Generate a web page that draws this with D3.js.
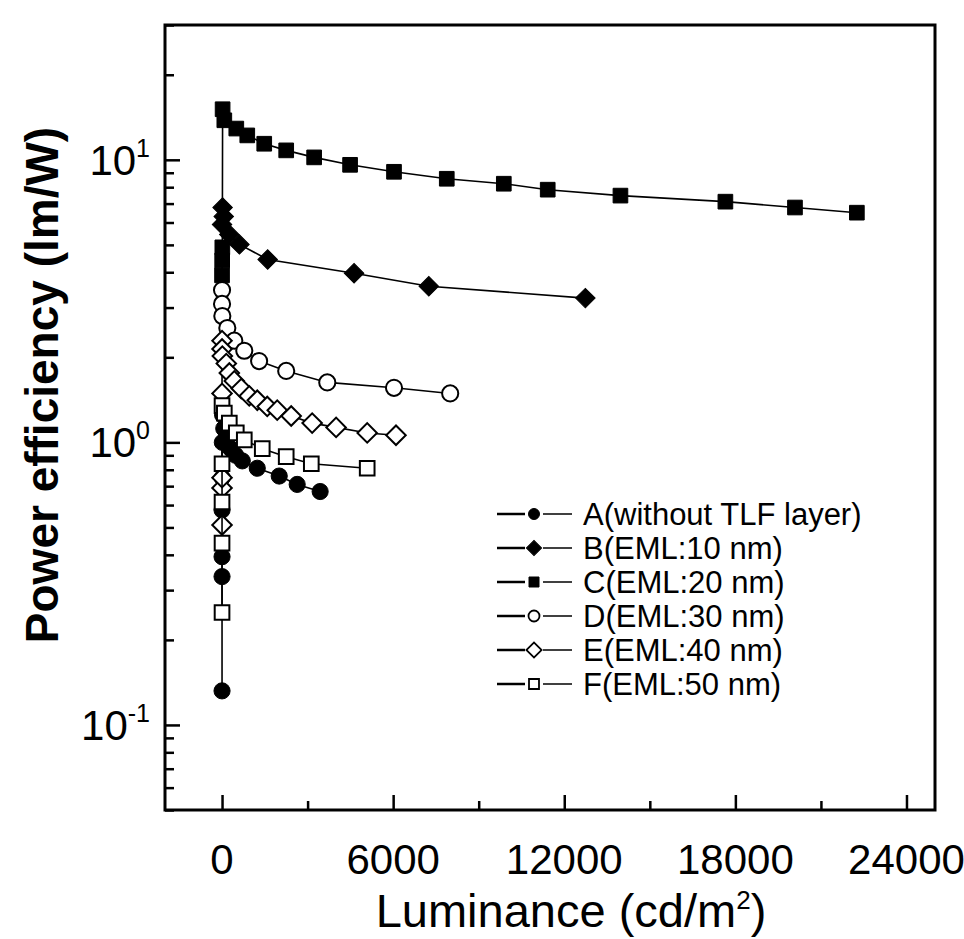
<!DOCTYPE html>
<html>
<head>
<meta charset="utf-8">
<script src="https://cdn.jsdelivr.net/npm/d3@7"></script>
<style>
  body { margin: 0; background: #fff; }
  text { font-family: "Liberation Sans", Arial, sans-serif; fill: #000; }
</style>
</head>
<body>
<div id="myChart"></div>
<script>
// Series data (luminance in cd/m2, power efficiency in lm/W)
var lumA = [0, 0, 0, 0, 5, 10, 20, 60, 150, 300, 480, 710, 1235, 2005, 2635, 3440];
var peA  = [0.132, 0.335, 0.394, 0.576, 0.75, 1.0, 1.25, 1.12, 1.02, 0.95, 0.9, 0.86, 0.81, 0.76, 0.71, 0.67];

var lumB = [0, 20, 60, 255, 610, 1600, 4630, 7250, 12740];
var peB  = [5.9, 6.78, 6.3, 5.44, 5.02, 4.44, 3.97, 3.57, 3.24];

var lumC = [0, 5, 10, 20, 80, 500, 885, 1480, 2250, 3230, 4490, 6030, 7880, 9880, 11420, 13970, 17650, 20090, 22260];
var peC  = [3.9, 4.4, 4.9, 15.1, 13.8, 12.9, 12.2, 11.4, 10.8, 10.2, 9.6, 9.07, 8.57, 8.23, 7.84, 7.47, 7.11, 6.78, 6.5];

var lumD = [0, 0, 10, 185, 430, 780, 1300, 2250, 3690, 6030, 8000];
var peD  = [3.46, 3.09, 2.8, 2.54, 2.29, 2.11, 1.94, 1.79, 1.63, 1.56, 1.49];

var lumE = [0, 0, 0, 0, 0, 0, 10, 150, 255, 430, 675, 955, 1235, 1585, 1935, 2425, 3160, 4000, 5090, 6100];
var peE  = [0.51, 0.69, 0.75, 1.49, 2.29, 2.14, 2.02, 1.90, 1.76, 1.65, 1.55, 1.46, 1.41, 1.34, 1.30, 1.24, 1.17, 1.13, 1.08, 1.06];

var lumF = [0, 0, 0, 0, 0, 80, 255, 500, 780, 1410, 2250, 3130, 5090];
var peF  = [0.25, 0.44, 0.615, 0.84, 1.35, 1.27, 1.17, 1.08, 1.02, 0.95, 0.89, 0.84, 0.81];

var seriesNames = ["A(without TLF layer)", "B(EML:10 nm)", "C(EML:20 nm)", "D(EML:30 nm)", "E(EML:40 nm)", "F(EML:50 nm)"];
var seriesShapes = ["circle", "diamond", "square", "circle", "diamond", "square"];
var seriesFilled = [true, true, true, false, false, false];

var xTicks = [0, 6000, 12000, 18000, 24000];
var xMinorTicks = [3000, 9000, 15000, 21000];
var yTickExps = [-1, 0, 1];

var series = [
  { lum: lumA, pe: peA }, { lum: lumB, pe: peB }, { lum: lumC, pe: peC },
  { lum: lumD, pe: peD }, { lum: lumE, pe: peE }, { lum: lumF, pe: peF }
];

let svgWidth = 964;
let svgHeight = 939;
let margin = { left: 165, right: 29, top: 25, bottom: 129 };

let svg = d3.select("#myChart").append("svg")
  .attr("width", svgWidth)
  .attr("height", svgHeight);

var x = d3.scaleLinear()
  .domain([-2000, 25000])
  .range([margin.left, svgWidth - margin.right]);

var y = d3.scaleLog()
  .domain([0.05, 30])
  .range([svgHeight - margin.bottom, margin.top]);

// frame
svg.append("rect")
  .attr("x", margin.left)
  .attr("y", margin.top)
  .attr("width", svgWidth - margin.left - margin.right)
  .attr("height", svgHeight - margin.top - margin.bottom)
  .attr("fill", "none")
  .attr("stroke", "#000")
  .attr("stroke-width", 3);

// x axis (ticks pointing inward)
let xAxis = svg.append("g")
  .attr("transform", "translate(0," + (svgHeight - margin.bottom) + ")")
  .call(d3.axisTop(x).tickValues(xTicks).tickSize(15).tickFormat(""));
xAxis.append("g")
  .call(d3.axisTop(x).tickValues(xMinorTicks).tickSize(9).tickFormat(""));
xAxis.selectAll(".domain").remove();
xAxis.selectAll("line").attr("stroke", "#000").attr("stroke-width", 2.5);

svg.append("g").selectAll("text")
  .data(xTicks)
  .enter()
  .append("text")
  .attr("x", d => x(d))
  .attr("y", svgHeight - margin.bottom + 64)
  .attr("text-anchor", "middle")
  .style("font-family", "'Liberation Sans Narrow', 'Arial Narrow', sans-serif")
  .style("font-size", "42px")
  .text(d => d);

// y axis, log scale with minor ticks 2..9
var yMajor = yTickExps.map(e => Math.pow(10, e));
var yMinor = [];
[-2, -1, 0, 1].forEach(function(e) {
  for (let k = 2; k <= 9; k++) {
    let v = k * Math.pow(10, e);
    if (v >= 0.05 && v <= 30) yMinor.push(v);
  }
});

let yAxis = svg.append("g")
  .attr("transform", "translate(" + margin.left + ",0)")
  .call(d3.axisRight(y).tickValues(yMajor).tickSize(15).tickFormat(""));
yAxis.append("g")
  .call(d3.axisRight(y).tickValues(yMinor).tickSize(9).tickFormat(""));
yAxis.selectAll(".domain").remove();
yAxis.selectAll("line").attr("stroke", "#000").attr("stroke-width", 2.5);

let yLabels = svg.append("g").selectAll("text")
  .data(yTickExps)
  .enter()
  .append("text")
  .attr("x", margin.left - 15)
  .attr("y", d => y(Math.pow(10, d)) + 15)
  .attr("text-anchor", "end")
  .style("font-family", "'Liberation Sans Narrow', 'Arial Narrow', sans-serif")
  .style("font-size", "42px");
yLabels.append("tspan").text("10");
yLabels.append("tspan")
  .attr("dy", -18)
  .style("font-size", "25px")
  .text(d => d);

// axis titles
svg.append("text")
  .attr("x", 571)
  .attr("y", svgHeight - 12)
  .attr("text-anchor", "middle")
  .style("font-size", "47px")
  .call(function(t) {
    t.append("tspan").text("Luminance (cd/m");
    t.append("tspan").attr("dy", -18).style("font-size", "26px").text("2");
    t.append("tspan").attr("dy", 18).text(")");
  });

svg.append("text")
  .attr("transform", "translate(58,385) rotate(-90)")
  .attr("text-anchor", "middle")
  .style("font-size", "46px")
  .style("font-weight", "bold")
  .text("Power efficiency (lm/W)");

// marker path generator
function markerPath(shape, big) {
  if (shape == "circle") return d3.symbol().type(d3.symbolCircle).size(big ? 205 : 95)();
  if (shape == "square") return d3.symbol().type(d3.symbolSquare).size(big ? 215 : 100)();
  return d3.symbol().type(d3.symbolSquare).size(big ? 190 : 115)();
}

var line = d3.line()
  .x(d => x(d[0]))
  .y(d => y(d[1]));

let plot = svg.append("g");

series.forEach(function(s, i) {
  let pts = s.lum.map((l, j) => [l, s.pe[j]]);
  plot.append("path")
    .attr("d", line(pts))
    .attr("fill", "none")
    .attr("stroke", "#000")
    .attr("stroke-width", 1.6);
  plot.append("g")
    .selectAll("path")
    .data(pts)
    .enter()
    .append("path")
    .attr("d", markerPath(seriesShapes[i], true))
    .attr("transform", d => "translate(" + x(d[0]) + "," + y(d[1]) + ")" + (seriesShapes[i] == "diamond" ? " rotate(45)" : ""))
    .attr("fill", seriesFilled[i] ? "#000" : "#fff")
    .attr("stroke", "#000")
    .attr("stroke-width", seriesFilled[i] ? 1 : 2);
});

// legend
let legend = svg.append("g")
  .selectAll("g")
  .data(seriesNames)
  .enter()
  .append("g")
  .attr("transform", (d, i) => "translate(497," + (514 + i * 34) + ")");

legend.append("line")
  .attr("x1", 0).attr("x2", 28)
  .attr("stroke", "#000").attr("stroke-width", 2.5);
legend.append("line")
  .attr("x1", 46).attr("x2", 75)
  .attr("stroke", "#000").attr("stroke-width", 1.5);
legend.append("path")
  .attr("d", (d, i) => markerPath(seriesShapes[i], false))
  .attr("transform", (d, i) => "translate(37,0)" + (seriesShapes[i] == "diamond" ? " rotate(45)" : ""))
  .attr("fill", (d, i) => seriesFilled[i] ? "#000" : "#fff")
  .attr("stroke", "#000")
  .attr("stroke-width", (d, i) => seriesFilled[i] ? 1 : 1.8);
legend.append("text")
  .attr("x", 86)
  .attr("y", 11)
  .style("font-size", "31px")
  .text(d => d);
</script>
</body>
</html>
